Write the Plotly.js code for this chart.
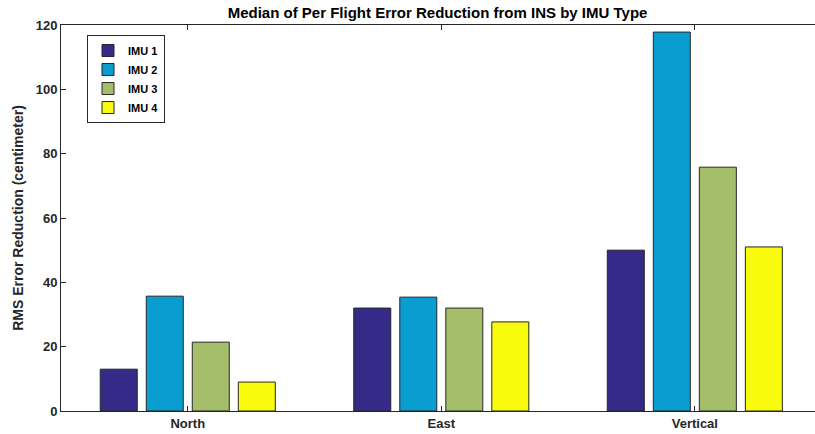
<!DOCTYPE html>
<html>
<head>
<meta charset="utf-8">
<script src="https://cdn.plot.ly/plotly-3.0.1.min.js"></script>
<style>html,body{margin:0;padding:0;background:#fff;}#chart{width:815px;height:434px;}</style>
</head>
<body>
<div id="chart"></div>
<script>
var categories = ["North", "East", "Vertical"];
var seriesNames = ["IMU 1", "IMU 2", "IMU 3", "IMU 4"];
var imu1 = [13.0, 32.0, 50.0];
var imu2 = [35.7, 35.4, 117.8];
var imu3 = [21.4, 32.0, 75.8];
var imu4 = [9.0, 27.7, 51.0];
var yTicks = [0, 20, 40, 60, 80, 100, 120];
var colors = ["#352a87", "#0a9dd0", "#a5be6a", "#f9fb0e"];

var values = [imu1, imu2, imu3, imu4];
var traces = values.map(function (v, i) {
  return {
    type: "bar",
    x: categories,
    y: v,
    name: seriesNames[i],
    marker: { color: colors[i], line: { color: "#262626", width: 1 } }
  };
});

var fontFam = "Liberation Sans, Arial, Helvetica, sans-serif";
var layout = {
  width: 815,
  height: 434,
  margin: { l: 61, r: 0, t: 25, b: 23 },
  paper_bgcolor: "#ffffff",
  plot_bgcolor: "#ffffff",
  barmode: "group",
  bargap: 0.274,
  bargroupgap: 0.196,
  font: { family: fontFam, color: "#262626" },
  title: {
    text: "Median of Per Flight Error Reduction from INS by IMU Type",
    font: { family: fontFam, size: 15, weight: "bold", color: "#000" },
    x: 407 / 815, xanchor: "center", xref: "paper",
    y: 1 - 13 / 434, yanchor: "middle"
  },
  xaxis: {
    type: "category",
    range: [-0.5, 2.474],
    showline: true, linecolor: "#262626", linewidth: 1,
    mirror: "ticks",
    ticks: "inside", ticklen: 5, tickcolor: "#262626",
    tickfont: { family: fontFam, size: 13, weight: "bold", color: "#262626" },
    showgrid: false, zeroline: false, fixedrange: true
  },
  yaxis: {
    range: [0, 120],
    tickvals: yTicks,
    ticktext: yTicks.map(String),
    showline: true, linecolor: "#262626", linewidth: 1,
    mirror: false,
    ticks: "inside", ticklen: 5, tickcolor: "#262626",
    tickfont: { family: fontFam, size: 13, weight: "bold", color: "#262626" },
    showgrid: false, zeroline: false,
    title: {
      text: "RMS Error Reduction (centimeter)",
      font: { family: fontFam, size: 14, weight: "bold", color: "#262626" },
      standoff: 8
    }
  },
  showlegend: true,
  legend: {
    x: 26 / 754, y: 0.974, xanchor: "left", yanchor: "top",
    bgcolor: "#ffffff", bordercolor: "#262626", borderwidth: 1,
    font: { family: fontFam, size: 11, weight: "bold", color: "#000" },
    tracegroupgap: 0,
    itemwidth: 30
  }
};

Plotly.newPlot("chart", traces, layout, { displayModeBar: false, staticPlot: true });
</script>
</body>
</html>
